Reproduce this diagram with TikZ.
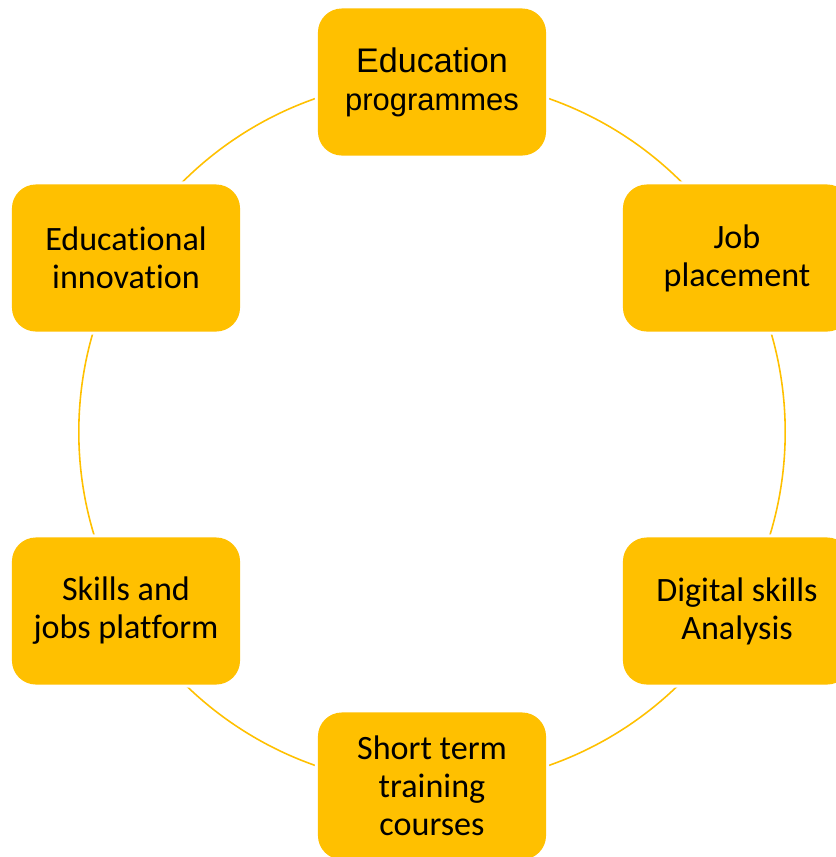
\documentclass[tikz,border=0pt]{standalone}
\usepackage{fontspec}
\setmainfont{Carlito}[Ligatures=NoCommon]
\newfontfamily\arialfont{Liberation Sans}
\definecolor{gold}{HTML}{FFC000}

\begin{document}
\begin{tikzpicture}[x=0.01cm,y=-0.01cm,
    box/.style={fill=gold, rounded corners=0.24cm, minimum width=2.28cm,
      minimum height=1.47cm, inner sep=0pt, align=center,
      font=\fontsize{9.7}{10.8}\selectfont,
      preaction={draw=white, line width=0.06cm}},
    ring/.style={draw=gold, line width=0.45pt}]
  \useasboundingbox (0,0) rectangle (835,857);

  % the cycle behind the boxes
  \coordinate (ctr) at (432,432);
  \draw[ring] (ctr) circle[radius=3.53cm];

  \node[box] (edu) at (432,82) {{\arialfont Education}\\
    {\arialfont\fontsize{8.8}{10.8}\selectfont programmes}};
  \node[box] (job) at (737,258) {Job\\placement};
  \node[box] (digital) at (737,611) {Digital skills\\Analysis};
  \node[box] (short) at (432,786) {Short term\\training\\courses};
  \node[box] (platform) at (126,611) {Skills and\\jobs platform};
  \node[box] (innov) at (126,258) {Educational\\innovation};
\end{tikzpicture}
\end{document}
